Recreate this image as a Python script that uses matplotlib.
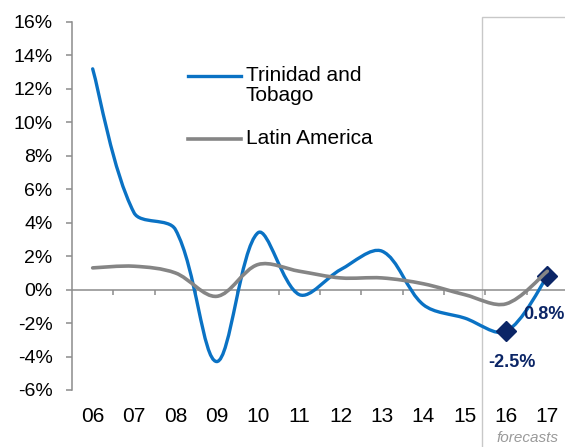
import matplotlib
matplotlib.use("Agg")
import matplotlib.pyplot as plt
from matplotlib.path import Path
from matplotlib.patches import PathPatch, Rectangle
from matplotlib.lines import Line2D
from matplotlib.transforms import blended_transform_factory
import numpy as np

plt.rcParams['font.family'] = ['Liberation Sans', 'DejaVu Sans']

years = ['06', '07', '08', '09', '10', '11', '12', '13', '14', '15', '16', '17']
trinidad = [13.2, 4.6, 3.6, -4.3, 3.4, -0.3, 1.2, 2.3, -0.9, -1.7, -2.5, 0.8]
latam = [1.3, 1.4, 1.0, -0.4, 1.5, 1.1, 0.7, 0.7, 0.35, -0.3, -0.85, 1.1]
forecast_years = ['16', '17']
forecast_labels = ['-2.5%', '0.8%']
yticks = list(range(-6, 17, 2))

BLUE = '#0A72C4'
GRAY = '#858585'
NAVY = '#0B2566'
AXC = '#8C8C8C'


def smooth_path(ax, xs, ys):
    """Excel-like smoothed line: Bezier segments whose tangent lengths are
    split by adjacent chord lengths measured in screen space."""
    pts = np.column_stack([xs, ys]).astype(float)
    scr = ax.transData.transform(pts)
    n = len(pts)
    verts = [pts[0]]
    codes = [Path.MOVETO]

    def tangent(i):
        a = pts[max(i - 1, 0)]
        b = pts[min(i + 1, n - 1)]
        return b - a

    def chord(i, j):
        return np.hypot(*(scr[j] - scr[i]))

    for i in range(n - 1):
        d_prev = chord(i - 1, i) if i > 0 else 0.0
        d_cur = chord(i, i + 1)
        d_next = chord(i + 1, i + 2) if i + 2 < n else 0.0
        f1 = d_cur / (d_prev + d_cur) if i > 0 else 0.5
        f2 = d_cur / (d_cur + d_next) if i + 2 < n else 0.5
        t1 = tangent(i)
        t2 = tangent(i + 1)
        c1 = pts[i] + t1 * f1 / 3.0
        c2 = pts[i + 1] - t2 * f2 / 3.0
        verts += [c1, c2, pts[i + 1]]
        codes += [Path.CURVE4] * 3
    return Path(verts, codes)


fig = plt.figure(figsize=(5.65, 4.47), dpi=100)
ax = fig.add_axes([72 / 565, 1 - 390 / 447, 496 / 565, 368 / 447])

x = np.arange(len(years))
ax.set_xlim(-0.5, len(years) - 0.5)
ax.set_ylim(-6, 16)

# forecast box
fstart = years.index(forecast_years[0]) - 0.58
tr = blended_transform_factory(ax.transData, fig.transFigure)
ax.add_patch(Rectangle((fstart, -0.1), len(years), 1 - 16.5 / 447 + 0.1,
                       transform=tr, fill=False, edgecolor='#C8C8C8',
                       linewidth=1.0, clip_on=False, zorder=0))
ax.text(fstart + (len(years) - 0.5 - fstart) / 2 + 0.05, 1 - 438 / 447, 'forecasts',
        transform=tr, ha='center', va='center', fontsize=11,
        style='italic', color='#9A9A9A')

# zero line with category-boundary ticks
ax.axhline(0, color=AXC, linewidth=1.1, zorder=1)
bounds = np.arange(len(years) - 1) + 0.5
ax.vlines(bounds, -0.32, 0, color=AXC, linewidth=1.1, zorder=1)

# series
ax.add_patch(PathPatch(smooth_path(ax, x, trinidad), fill=False, edgecolor=BLUE,
                       linewidth=2.4, capstyle='round', joinstyle='round', zorder=3))
fx = [years.index(y) for y in forecast_years]
fy = [trinidad[i] for i in fx]
ax.plot(fx, fy, linestyle='none', marker='D', markersize=10,
        markerfacecolor=NAVY, markeredgecolor=NAVY, zorder=4)
ax.add_patch(PathPatch(smooth_path(ax, x, latam), fill=False, edgecolor=GRAY,
                       linewidth=2.6, capstyle='round', joinstyle='round', zorder=5))

offsets = [(6, -31), (-3, -38)]
for xi, yi, lab, off in zip(fx, fy, forecast_labels, offsets):
    ax.annotate(lab, (xi, yi), xytext=off, textcoords='offset pixels',
                ha='center', va='center', fontsize=13, fontweight='bold',
                color=NAVY, zorder=6, annotation_clip=False)

# axes styling
for s in ['top', 'right', 'bottom']:
    ax.spines[s].set_visible(False)
ax.spines['left'].set_color(AXC)
ax.spines['left'].set_linewidth(1.1)
ax.set_yticks(yticks)
ax.set_yticklabels([f'{v}%' for v in yticks])
ax.tick_params(axis='y', length=4, width=1.1, color=AXC, pad=10,
               labelsize=14, labelcolor='black')
ax.set_xticks(x)
ax.set_xticklabels(years)
ax.tick_params(axis='x', length=0, pad=12, labelsize=15, labelcolor='black')

# legend (manual, Excel style)
fig.add_artist(Line2D([188 / 565, 241 / 565], [1 - 76 / 447] * 2, color=BLUE,
                      linewidth=2.4, transform=fig.transFigure))
fig.add_artist(Line2D([188 / 565, 241 / 565], [1 - 139 / 447] * 2, color=GRAY,
                      linewidth=2.6, transform=fig.transFigure))
fig.text(246 / 565, 1 - 66 / 447, 'Trinidad and\nTobago', ha='left', va='top',
         fontsize=15, linespacing=1.05)
fig.text(246 / 565, 1 - 139 / 447, 'Latin America', ha='left', va='center',
         fontsize=15)

fig.savefig('out.png', dpi=100)
